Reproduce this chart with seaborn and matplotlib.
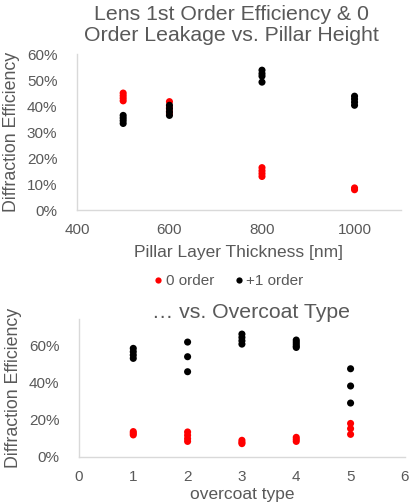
import pandas as pd
import seaborn as sns
import matplotlib.pyplot as plt
from matplotlib.ticker import MultipleLocator, PercentFormatter

# ----- Data (fractions) -----
thickness = [500, 600, 800, 1000]
zero_by_thickness = [
    [0.45, 0.44, 0.43, 0.42],
    [0.417, 0.395, 0.38, 0.37],
    [0.163, 0.151, 0.14, 0.129],
    [0.085, 0.078],
]
first_by_thickness = [
    [0.364, 0.354, 0.344, 0.333],
    [0.403, 0.39, 0.377, 0.364],
    [0.538, 0.525, 0.515, 0.492],
    [0.438, 0.427, 0.415, 0.403],
]

overcoat = [1, 2, 3, 4, 5]
zero_by_overcoat = [
    [0.137, 0.128, 0.119],
    [0.135, 0.117, 0.099, 0.084],
    [0.09, 0.079, 0.072],
    [0.106, 0.095, 0.084],
    [0.181, 0.153, 0.122],
]
first_by_overcoat = [
    [0.586, 0.568, 0.55, 0.532],
    [0.62, 0.541, 0.46],
    [0.663, 0.645, 0.627, 0.609],
    [0.631, 0.62, 0.609, 0.598, 0.591],
    [0.476, 0.383, 0.291],
]

ORDERS = ["0 order", "+1 order"]
PALETTE = {"0 order": "#FF0000", "+1 order": "#000000"}
TEXT = "#595959"
AXIS = "#D9D9D9"


def long_table(xs, zero, first, xname):
    rows = []
    for x, vals in zip(xs, zero):
        rows += [(x, v, "0 order") for v in vals]
    for x, vals in zip(xs, first):
        rows += [(x, v, "+1 order") for v in vals]
    return pd.DataFrame(rows, columns=[xname, "eff", "order"])


def style_axes(ax):
    sns.despine(ax=ax)
    for side in ["left", "bottom"]:
        ax.spines[side].set_color(AXIS)
        ax.spines[side].set_linewidth(1.0)
    ax.tick_params(which="both", colors=AXIS, labelcolor=TEXT, labelsize=11)
    ax.yaxis.set_major_formatter(PercentFormatter(1.0, decimals=0))


sns.set_theme(style="white")
plt.rcParams["font.family"] = ["Liberation Sans", "DejaVu Sans"]

fig = plt.figure(figsize=(4.09, 5.03), dpi=100)
ax1 = fig.add_axes([0.188, 0.5825, 0.792, 0.31])
ax2 = fig.add_axes([0.193, 0.0915, 0.797, 0.2745])

# ----- Top: vs pillar height -----
df1 = long_table(thickness, zero_by_thickness, first_by_thickness, "thick")
sns.scatterplot(data=df1, x="thick", y="eff", hue="order", hue_order=ORDERS,
                palette=PALETTE, s=26, edgecolor="none", legend=False, ax=ax1)
ax1.set_xlim(400, 1100)
ax1.set_ylim(0, 0.6)
ax1.xaxis.set_major_locator(MultipleLocator(200))
ax1.xaxis.set_minor_locator(MultipleLocator(100))
ax1.yaxis.set_major_locator(MultipleLocator(0.1))
ax1.yaxis.set_minor_locator(MultipleLocator(0.05))
style_axes(ax1)
ax1.tick_params(axis="x", which="both", direction="inout", length=6, pad=6)
ax1.tick_params(axis="y", which="both", direction="out", length=4, pad=10)
ax1.set_xlabel("Pillar Layer Thickness [nm]", color=TEXT, fontsize=12.5, labelpad=6)
ax1.set_ylabel("Diffraction Efficiency", color=TEXT, fontsize=12.8, labelpad=5)
fig.text(231 / 409, 1 - 25 / 503,
         "Lens 1st Order Efficiency & 0\nOrder Leakage vs. Pillar Height",
         ha="center", va="center", color=TEXT, fontsize=15.3, linespacing=1.15)

# ----- Bottom: vs overcoat type -----
df2 = long_table(overcoat, zero_by_overcoat, first_by_overcoat, "coat")
sns.scatterplot(data=df2, x="coat", y="eff", hue="order", hue_order=ORDERS,
                palette=PALETTE, s=26, edgecolor="none", legend=False, ax=ax2)
ax2.set_xlim(0, 6)
ax2.set_ylim(0, 0.745)
ax2.xaxis.set_major_locator(MultipleLocator(1))
ax2.xaxis.set_minor_locator(MultipleLocator(0.2))
ax2.yaxis.set_major_locator(MultipleLocator(0.2))
ax2.yaxis.set_minor_locator(MultipleLocator(0.1))
style_axes(ax2)
ax2.tick_params(axis="x", which="major", direction="inout", length=7, pad=6)
ax2.tick_params(axis="x", which="minor", direction="in", length=3.5)
ax2.tick_params(axis="y", which="both", direction="out", length=4, pad=10)
ax2.set_xlabel("overcoat type", color=TEXT, fontsize=12.5, labelpad=2)
ax2.set_ylabel("Diffraction Efficiency", color=TEXT, fontsize=12.8, labelpad=5)
fig.text(251 / 409, 1 - 313 / 503, "… vs. Overcoat Type",
         ha="center", va="center", color=TEXT, fontsize=15.3)

# ----- Shared legend -----
handles = [plt.Line2D([], [], marker="o", linestyle="none", markersize=4.5,
                      markerfacecolor=PALETTE[o], markeredgecolor="none")
           for o in ORDERS]
leg = fig.legend(handles, ORDERS, loc="center", bbox_to_anchor=(228 / 409, 1 - 281 / 503),
                 ncol=2, frameon=False, fontsize=11, handletextpad=0.1,
                 columnspacing=1.2, handlelength=0.8)
for t in leg.get_texts():
    t.set_color(TEXT)

fig.savefig("out.png", dpi=100)
